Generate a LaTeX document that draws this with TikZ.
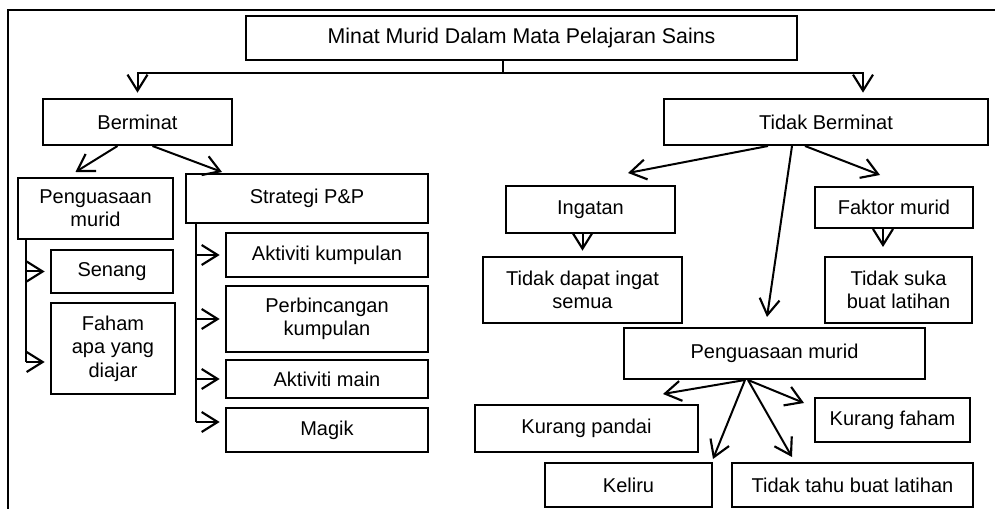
\documentclass[tikz,border=0pt]{standalone}
\usepackage{fontspec}
\setmainfont{Liberation Sans}
\usetikzlibrary{arrows.meta,calc}

\begin{document}
\begin{tikzpicture}[x=0.75pt, y=-0.75pt,
      box/.style={draw, line width=1.5pt, align=center, inner sep=2pt,
                  font=\fontsize{15}{17.5}\selectfont},
      arr/.style={-{Straight Barb[length=12pt,width=15pt,line width=1.6pt]}, line width=1.5pt},
      gap/.style={shorten >=4pt},
      bus/.style={line width=1.5pt},
      frame/.style={line width=2.2pt}]
    \useasboundingbox (0,0) rectangle (995,509);
    \draw[frame] (8,509) -- (8,10) -- (995,10);
    \node[box, minimum width=413pt, minimum height=33pt,
          font=\fontsize{16}{18}\selectfont] (minat) at (521.5,38)
      {Minat Murid Dalam Mata Pelajaran Sains};
    % berminat side
    \node[box, minimum width=141.75pt, minimum height=34.5pt] (berminat) at (137.5,122) {Berminat};
    \node[box, minimum width=116.25pt, minimum height=45.75pt] (kuasa) at (95.5,208.5) {Penguasaan\\murid};
    \node[box, minimum width=181.5pt, minimum height=36.75pt] (strategi) at (307,198.5) {Strategi P\&P};
    \node[box, minimum width=91.5pt, minimum height=32.25pt] (senang) at (112,271.5) {Senang};
    \node[box, minimum width=93pt, minimum height=68.25pt] (faham) at (113,348.5) {Faham\\apa yang\\diajar};
    \node[box, minimum width=151.5pt, minimum height=33pt] (aktkump) at (327,255) {Aktiviti kumpulan};
    \node[box, minimum width=151.5pt, minimum height=49.5pt] (bincang) at (327,319) {Perbincangan\\kumpulan};
    \node[box, minimum width=151.5pt, minimum height=28.5pt] (aktmain) at (327,379) {Aktiviti main};
    \node[box, minimum width=151.5pt, minimum height=33pt] (magik) at (327,430) {Magik};
    % tidak berminat side
    \node[box, minimum width=243pt, minimum height=34.5pt] (tidak) at (826,122) {Tidak Berminat};
    \node[box, minimum width=126.75pt, minimum height=35.25pt] (ingatan) at (590.5,209.5) {Ingatan};
    \node[box, minimum width=149.25pt, minimum height=49.5pt] (tidakingat) at (582.5,290) {Tidak dapat ingat\\semua};
    \node[box, minimum width=118.5pt, minimum height=30.75pt] (faktor) at (894,207.5) {Faktor murid};
    \node[box, minimum width=110.25pt, minimum height=49.5pt] (tidaksuka) at (898.5,290) {Tidak suka\\buat latihan};
    \node[box, minimum width=225.75pt, minimum height=38.25pt] (kuasab) at (774.5,353.5) {Penguasaan murid};
    \node[box, minimum width=167.25pt, minimum height=35.25pt] (pandai) at (586.5,428.5) {Kurang pandai};
    \node[box, minimum width=125.25pt, minimum height=33pt] (keliru) at (628.5,485) {Keliru};
    \node[box, minimum width=180.75pt, minimum height=33pt] (tidaktahu) at (852.5,485) {Tidak tahu buat latihan};
    \node[box, minimum width=116.25pt, minimum height=33pt] (kfaham) at (892.5,420) {Kurang faham};
    % top split
    \coordinate (split) at (503,73);
    \draw[bus] (minat.south -| split) -- (split);
    \draw[arr, gap] (split) -| (berminat.north);
    \draw[arr, gap] (split) -| ($(tidak.north)+(37,0)$);
    % left branches
    \draw[arr] ($(berminat.south)+(-20,0)$) -- ($(kuasa.north)+(-20,-5)$);
    \draw[arr] ($(berminat.south)+(15,0)$) -- ($(strategi.north)+(-85,-1)$);
    \coordinate (kbus) at (26,362);
    \draw[bus] (kuasa.south -| kbus) -- (kbus);
    \draw[arr, gap] (kbus |- senang.west) -- (senang.west);
    \draw[arr, gap] (kbus) -- (kbus -| faham.west);
    \coordinate (sbus) at (196,422);
    \draw[bus] (strategi.south -| sbus) -- (sbus);
    \draw[arr, gap] (sbus |- aktkump.west) -- (aktkump.west);
    \draw[arr, gap] (sbus |- bincang.west) -- (bincang.west);
    \draw[arr, gap] (sbus |- aktmain.west) -- (aktmain.west);
    \draw[arr, gap] (sbus) -- (sbus -| magik.west);
    % right branches
    \draw[arr] ($(tidak.south)+(-58,0)$) -- ($(ingatan.north)+(37.5,-12)$);
    \draw[arr] ($(tidak.south)+(-34,0)$) -- ($(kuasab.north)+(-7.5,-10)$);
    \draw[arr] ($(tidak.south)+(-21,0)$) -- ($(faktor.north)+(-14,-11)$);
    \draw[arr, gap] (ingatan.south -| tidakingat.north) -- (tidakingat.north);
    \draw[arr] ($(faktor.south)+(-11,0)$) -- ($(tidaksuka.north)+(-15.5,-9)$);
    \draw[arr] ($(kuasab.south)+(-29.5,0)$) -- ($(pandai.north)+(76.5,-10)$);
    \draw[arr] ($(kuasab.south)+(-29.5,0)$) -- ($(keliru.north east)+(0,-3)$);
    \draw[arr] ($(kuasab.south)+(-26.5,0)$) -- ($(tidaktahu.north)+(-60.5,-5)$);
    \draw[arr] ($(kuasab.south)+(-26.5,0)$) -- ($(kfaham.west)+(-10,-17)$);
\end{tikzpicture}
\end{document}
